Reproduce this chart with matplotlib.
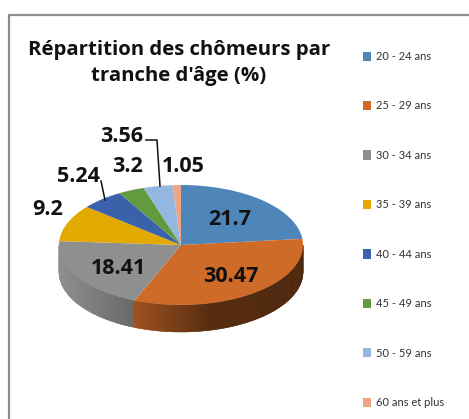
import numpy as np
import matplotlib
matplotlib.use("Agg")
import matplotlib.pyplot as plt
from matplotlib.colors import to_rgb
from matplotlib.lines import Line2D

W, H = 469, 419

title = "Répartition des chômeurs par\ntranche d'âge (%)"
labels = ["20 - 24 ans", "25 - 29 ans", "30 - 34 ans", "35 - 39 ans",
          "40 - 44 ans", "45 - 49 ans", "50 - 59 ans", "60 ans et plus"]
values = [21.7, 30.47, 18.41, 9.2, 5.24, 3.2, 3.56, 1.05]
colors = ["#4f86b9", "#cf6b28", "#8f8f8f", "#e3a900",
          "#3a62ab", "#639a40", "#93b7de", "#eda586"]
# where the value labels sit, in pixels of the picture
label_pos = [(230, 219), (231, 276), (118, 268), (48, 209),
             (78, 176), (127, 167), (122, 136), (183, 167)]


def fx(px):
    return px / W


def fy(py):
    return 1 - py / H


fig = plt.figure(figsize=(W / 100, H / 100), dpi=100)

# squashed pie: its axes box is the ellipse plus the wall below it
depth = 27 / 60
ax = fig.add_axes([fx(59), fy(332), 244 / W, 147 / H])
wedges, _ = ax.pie(values, colors=colors, startangle=90, counterclock=False,
                   radius=1, center=(0, 0), wedgeprops={"linewidth": 0},
                   frame=True)
ax.set_aspect("auto")
ax.set_xlim(-1, 1)
ax.set_ylim(-1 - depth, 1)
ax.axis("off")

# side wall, in thin strips, shaded by how far right they are
fracs = np.array(values) / sum(values)
edges = 90 - 360 * np.concatenate([[0], np.cumsum(fracs)])
for i in [2, 1, 0]:
    for a in np.arange(edges[i], edges[i + 1], -1.0):
        b = max(a - 1.5, edges[i + 1])
        if np.sin(np.radians(a)) > 0 and np.sin(np.radians(b)) > 0:
            continue
        x = np.cos(np.radians([a, b]))
        y = np.minimum(np.sin(np.radians([a, b])), 0)
        if i == 2:
            shade = np.interp(x[0], [-1, -0.34], [1.0, 0.72])
        else:
            shade = np.interp(x[0], [-0.34, 0.25, 1], [0.75, 0.42, 0.38])
        c = np.array(to_rgb(colors[i])) * shade
        ax.fill([x[0], x[1], x[1], x[0]], [y[0], y[1], y[1] - depth, y[0] - depth],
                color=c, lw=0.3, zorder=0, clip_on=False)

# frame, only top and left show in the crop
fig.add_artist(Line2D([fx(8.5), fx(8.5), 1], [0, fy(15), fy(15)], color="#8c8c8c", lw=1.6))

fig.text(fx(179), fy(63), title, ha="center", va="center", fontsize=14.7,
         fontweight="bold", family="Open Sans", color="#111111", linespacing=1.45)

for val, pos in zip(values, label_pos):
    fig.text(fx(pos[0]), fy(pos[1]), str(val), ha="center", va="center",
             fontsize=15.5, fontweight="bold", family="Open Sans", color="#111111")

# leader lines
fig.add_artist(Line2D([fx(146), fx(157), fx(160)], [fy(140), fy(140), fy(186)], color="#111111", lw=1.1))
fig.add_artist(Line2D([fx(101), fx(105)], [fy(181), fy(200)], color="#111111", lw=1.1))

fig.legend(wedges, labels, loc="upper left", bbox_to_anchor=(fx(363), fy(51)),
           frameon=False, ncol=1, prop={"family": "Lato", "size": 8},
           handlelength=0.7, handleheight=0.9, handletextpad=0.5,
           labelspacing=3.46, borderpad=0, borderaxespad=0, labelcolor="#333333")

fig.savefig("out.png", dpi=100)
